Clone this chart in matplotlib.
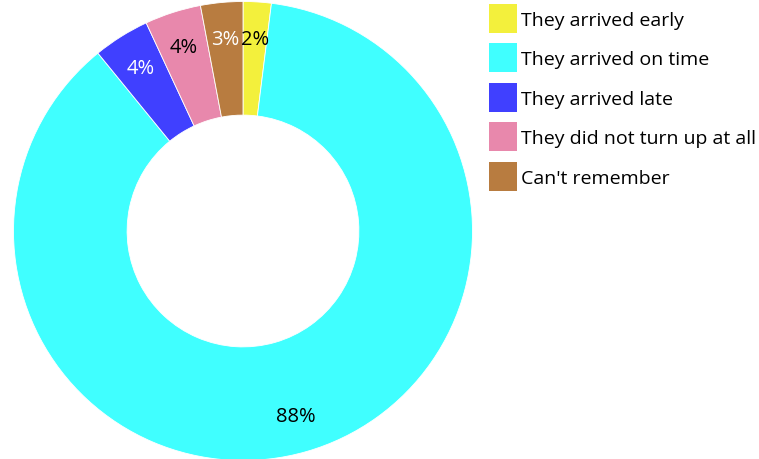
import matplotlib
matplotlib.use("Agg")
import matplotlib.pyplot as plt
from matplotlib.patches import Patch
import numpy as np

categories = ["They arrived early", "They arrived on time", "They arrived late",
              "They did not turn up at all", "Can't remember"]
values = [2, 88, 4, 4, 3]
colors = ["#f3f03c", "#40ffff", "#4040ff", "#e888ac", "#b87c40"]
label_colors = ["black", "black", "white", "black", "white"]

plt.rcParams["font.family"] = ["Open Sans", "DejaVu Sans"]

fig = plt.figure(figsize=(7.59, 4.60), dpi=100)
ax = fig.add_axes([13.5 / 759, -1.5 / 460, 459 / 759, 459 / 460])

wedges, _ = ax.pie(values, colors=colors, startangle=90, counterclock=False,
                   radius=1.0,
                   wedgeprops=dict(width=0.495, edgecolor="white", linewidth=0.6))

total = sum(values)
angle = 90.0
for v, tc in zip(values, label_colors):
    span = 360.0 * v / total
    mid = np.deg2rad(angle - span / 2)
    r = 0.84
    ax.text(r * np.cos(mid), r * np.sin(mid), f"{v}%", ha="center", va="center",
            fontsize=14.5, color=tc)
    angle -= span

ax.set_xlim(-1, 1)
ax.set_ylim(-1, 1)
ax.set_aspect("equal")
ax.axis("off")

handles = [Patch(facecolor=c, edgecolor="none") for c in colors]
fig.legend(handles, categories, loc="upper left",
           bbox_to_anchor=(489 / 759, 1 - 5 / 460), frameon=False,
           fontsize=14, handlelength=1.45, handleheight=1.9,
           handletextpad=0.2, labelspacing=0.55, borderpad=0, borderaxespad=0)

fig.savefig("out.png", dpi=100)
